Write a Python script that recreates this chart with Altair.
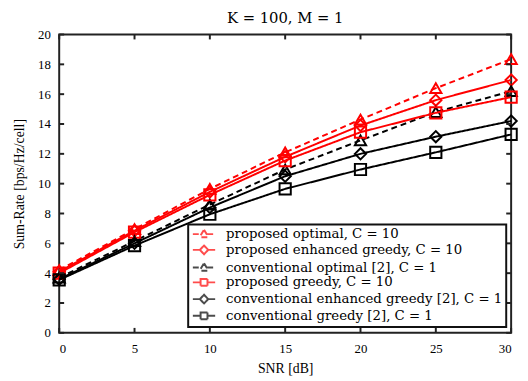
import altair as alt
import pandas as pd

snr = [0, 5, 10, 15, 20, 25, 30]
series_names = [
    "proposed optimal, C = 10",
    "proposed enhanced greedy, C = 10",
    "conventional optimal [2], C = 1",
    "proposed greedy, C = 10",
    "conventional enhanced greedy [2], C = 1",
    "conventional greedy [2], C = 1",
]
prop_opt_c10 = [4.2, 6.95, 9.65, 12.1, 14.3, 16.4, 18.35]
prop_enh_c10 = [4.1, 6.85, 9.45, 11.8, 13.9, 15.6, 16.95]
conv_opt_c1 = [3.7, 6.15, 8.6, 10.95, 12.9, 14.8, 16.2]
prop_greedy_c10 = [4.0, 6.75, 9.25, 11.55, 13.45, 14.75, 15.8]
conv_enh_c1 = [3.6, 6.0, 8.4, 10.5, 12.0, 13.15, 14.2]
conv_greedy_c1 = [3.55, 5.85, 7.95, 9.65, 10.95, 12.1, 13.3]
series_values = [prop_opt_c10, prop_enh_c10, conv_opt_c1, prop_greedy_c10, conv_enh_c1, conv_greedy_c1]

series_colors = ["#ff0000", "#ff0000", "#000000", "#ff0000", "#000000", "#000000"]
series_dash = [[6, 4], [1, 0], [6, 4], [1, 0], [1, 0], [1, 0]]
series_shapes = ["triangle-up", "diamond", "triangle-up", "square", "diamond", "square"]

x_ticks = [0, 5, 10, 15, 20, 25, 30]
y_ticks = [0, 2, 4, 6, 8, 10, 12, 14, 16, 18, 20]

W, H = 459, 303
FONT = "Liberation Serif"
LFONT = "DejaVu Serif"

xs = alt.Scale(domain=[0, 30], nice=False)
ys = alt.Scale(domain=[0, 20], nice=False)
x_axis = alt.Axis(title="SNR [dB]", values=x_ticks, grid=False, domain=False, ticks=False,
                  labelPadding=10, titlePadding=6, labelOverlap=False)
y_axis = alt.Axis(title="Sum-Rate [bps/Hz/cell]", values=y_ticks, grid=False, domain=False,
                  ticks=False, labelPadding=9, titlePadding=11, labelOverlap=False)

layers = []
for name, vals, col, dash, shp in zip(series_names, series_values, series_colors, series_dash, series_shapes):
    df = pd.DataFrame({"snr": snr, "rate": vals, "series": name})
    base = alt.Chart(df).encode(
        x=alt.X("snr:Q", scale=xs, axis=x_axis),
        y=alt.Y("rate:Q", scale=ys, axis=y_axis),
    )
    layers.append(base.mark_line(color=col, strokeWidth=2, strokeDash=dash))
    layers.append(base.mark_point(color=col, shape=shp, filled=False, size=130, strokeWidth=2, opacity=1))

# inward ticks on all four sides
xt = pd.DataFrame({"snr": x_ticks})
yt = pd.DataFrame({"rate": y_ticks})
layers.append(alt.Chart(xt).mark_rule(color="#222", strokeWidth=2).encode(
    x=alt.X("snr:Q", scale=xs, axis=x_axis), y=alt.value(H), y2=alt.value(H - 5)))
layers.append(alt.Chart(xt).mark_rule(color="#222", strokeWidth=2).encode(
    x=alt.X("snr:Q", scale=xs, axis=x_axis), y=alt.value(0), y2=alt.value(5)))
layers.append(alt.Chart(yt).mark_rule(color="#222", strokeWidth=2).encode(
    y=alt.Y("rate:Q", scale=ys, axis=y_axis), x=alt.value(0), x2=alt.value(5)))
layers.append(alt.Chart(yt).mark_rule(color="#222", strokeWidth=2).encode(
    y=alt.Y("rate:Q", scale=ys, axis=y_axis), x=alt.value(W), x2=alt.value(W - 5)))

# legend-only layer: custom symbols (line + marker)
legend_paths = {
    "triangle-up": "M-1,0L0.62,0M1.27,-0.9L2.17,0.62L0.37,0.62ZM1.92,0L3.53,0",
    "diamond": "M-1,0L0.42,0M1.27,-0.88L2.12,0L1.27,0.88L0.42,0ZM2.12,0L3.53,0",
    "square": "M-1,0L0.57,0M0.57,-0.7L1.97,-0.7L1.97,0.7L0.57,0.7ZM1.97,0L3.53,0",
}
leg_df = pd.DataFrame({"series": series_names})
legend_layer = alt.Chart(leg_df).transform_filter("false").mark_point(filled=False, size=225, strokeWidth=2).encode(
    color=alt.Color("series:N", scale=alt.Scale(domain=series_names, range=series_colors),
                    legend=alt.Legend(title=None, orient="none", legendX=131, legendY=193,
                                      fillColor="white", strokeColor="#111", padding=3,
                                      labelFont=LFONT, labelFontSize=13.5, labelColor="black",
                                      labelOffset=22, symbolStrokeWidth=2, rowPadding=0,
                                      labelLimit=400)),
    shape=alt.Shape("series:N", scale=alt.Scale(domain=series_names,
                                                range=[legend_paths[s] for s in series_shapes])),
    strokeDash=alt.StrokeDash("series:N", scale=alt.Scale(domain=series_names, range=series_dash)),
)
layers.append(legend_layer)

chart = alt.layer(*layers).properties(
    width=W, height=H,
    title=alt.Title("K = 100, M = 1", font=LFONT, fontSize=15, fontWeight="normal", color="black",
                    anchor="middle", offset=3),
    autosize=alt.AutoSizeParams(type="none"),
    padding={"left": 52, "top": 24, "right": 9, "bottom": 46},
).configure_view(stroke="#222", strokeWidth=2).configure_axis(
    labelFont=FONT, labelFontSize=13, labelColor="black", titleFont=FONT, titleFontSize=14,
    titleFontWeight="normal", titleColor="black"
).configure_legend(strokeWidth=2)

chart.save("out.html", embed_options={"renderer": "svg", "actions": False})
